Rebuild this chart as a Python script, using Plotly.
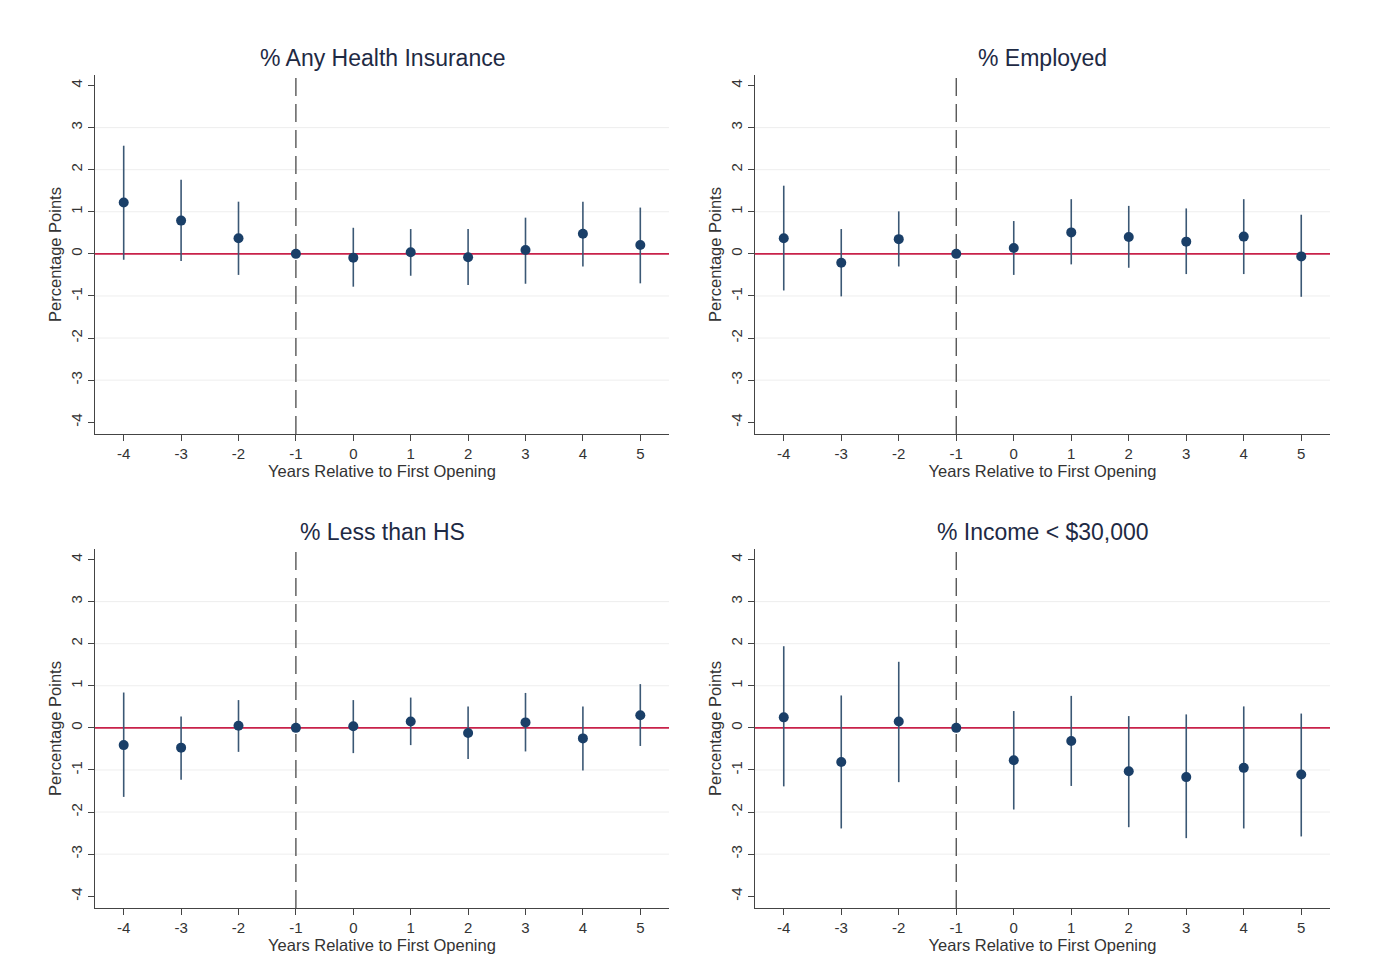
import plotly.graph_objects as go

years = [-4, -3, -2, -1, 0, 1, 2, 3, 4, 5]
tick_labels = ["-4", "-3", "-2", "-1", "0", "1", "2", "3", "4", "5"]
y_ticks = [-4, -3, -2, -1, 0, 1, 2, 3, 4]

titles = ["% Any Health Insurance", "% Employed", "% Less than HS", "% Income < $30,000"]

ins_est = [1.22, 0.79, 0.37, 0.0, -0.09, 0.04, -0.08, 0.09, 0.48, 0.21]
ins_hi = [2.57, 1.76, 1.24, 0.0, 0.62, 0.59, 0.59, 0.86, 1.24, 1.10]
ins_lo = [-0.14, -0.17, -0.50, 0.0, -0.78, -0.52, -0.74, -0.71, -0.30, -0.70]

emp_est = [0.37, -0.21, 0.35, 0.0, 0.14, 0.51, 0.40, 0.29, 0.41, -0.06]
emp_hi = [1.62, 0.59, 1.01, 0.0, 0.78, 1.30, 1.14, 1.08, 1.30, 0.93]
emp_lo = [-0.87, -1.01, -0.30, 0.0, -0.50, -0.25, -0.33, -0.48, -0.48, -1.02]

hs_est = [-0.41, -0.47, 0.05, 0.0, 0.04, 0.15, -0.12, 0.13, -0.25, 0.30]
hs_hi = [0.84, 0.27, 0.66, 0.0, 0.66, 0.72, 0.51, 0.83, 0.51, 1.04]
hs_lo = [-1.64, -1.23, -0.57, 0.0, -0.60, -0.41, -0.74, -0.56, -1.01, -0.43]

inc_est = [0.25, -0.81, 0.15, 0.0, -0.77, -0.31, -1.03, -1.17, -0.95, -1.11]
inc_hi = [1.94, 0.77, 1.57, 0.0, 0.40, 0.76, 0.28, 0.32, 0.51, 0.34]
inc_lo = [-1.39, -2.39, -1.29, 0.0, -1.94, -1.38, -2.36, -2.62, -2.39, -2.58]

panels = [
    (ins_est, ins_hi, ins_lo),
    (emp_est, emp_hi, emp_lo),
    (hs_est, hs_hi, hs_lo),
    (inc_est, inc_hi, inc_lo),
]

OFF = 8  # page body margin
W, H = 1377 - 2 * OFF, 977 - 2 * OFF


def px_x(v):
    return (v - OFF) / W


def px_y(v):
    return 1 - (v - OFF) / H


x_domains = [(px_x(95), px_x(669)), (px_x(755), px_x(1330))]
y_domains = [(px_y(434), px_y(75)), (px_y(908), px_y(549))]

navy = "#1a3f68"
bar_col = "#3b5875"
red = "#c8224a"
grid = "#eeeeee"
axis_col = "#444444"
text_col = "#333333"
title_col = "#1e2a44"
font_family = "Liberation Sans, Arial, sans-serif"

fig = go.Figure()
layout = dict(
    width=W,
    height=H,
    margin=dict(l=0, r=0, t=0, b=0),
    paper_bgcolor="white",
    plot_bgcolor="white",
    showlegend=False,
    font=dict(family=font_family, color=text_col),
)
annotations = []
shapes = []

for i, (est, hi, lo) in enumerate(panels):
    row, col = divmod(i, 2)
    n = i + 1
    xa = "x" if n == 1 else f"x{n}"
    ya = "y" if n == 1 else f"y{n}"
    plus = [h - e for h, e in zip(hi, est)]
    minus = [e - l for e, l in zip(est, lo)]
    fig.add_trace(go.Scatter(
        x=years, y=est, mode="markers", xaxis=xa, yaxis=ya,
        marker=dict(color=navy, size=10),
        error_y=dict(type="data", symmetric=False, array=plus, arrayminus=minus,
                     width=0, thickness=1.6, color=bar_col),
        hoverinfo="x+y",
    ))
    xkey = "xaxis" if n == 1 else f"xaxis{n}"
    ykey = "yaxis" if n == 1 else f"yaxis{n}"
    layout[xkey] = dict(
        domain=list(x_domains[col]), anchor=ya, range=[-4.5, 5.5],
        tickvals=years, ticktext=tick_labels, ticks="outside", ticklen=6,
        tickcolor=axis_col, showline=True, linecolor=axis_col, linewidth=1,
        showgrid=False, zeroline=False,
        tickfont=dict(size=15, color=text_col),
        title=dict(text="Years Relative to First Opening",
                   font=dict(size=16.5, color=text_col), standoff=2),
    )
    layout[ykey] = dict(
        domain=list(y_domains[row]), anchor=xa, range=[-4.28, 4.25],
        tickvals=y_ticks, ticktext=[str(v) for v in y_ticks], ticks="outside",
        ticklen=6, tickcolor=axis_col, tickangle=-90,
        showline=True, linecolor=axis_col, linewidth=1,
        showgrid=False, zeroline=False,
        tickfont=dict(size=15, color=text_col),
        title=dict(text="Percentage Points", font=dict(size=16.5, color=text_col),
                   standoff=2),
    )
    # horizontal gridlines
    for g in [-3, -2, -1, 1, 2, 3]:
        shapes.append(dict(type="line", xref=f"{xa} domain", yref=ya,
                           x0=0, x1=1, y0=g, y1=g,
                           line=dict(color=grid, width=1), layer="below"))
    # zero reference line
    shapes.append(dict(type="line", xref=f"{xa} domain", yref=ya,
                       x0=0, x1=1, y0=0, y1=0,
                       line=dict(color=red, width=1.6), layer="below"))
    # event-time dashed line
    shapes.append(dict(type="line", xref=xa, yref=f"{ya} domain",
                       x0=-1, x1=-1, y0=0, y1=1,
                       line=dict(color="#4a4a4a", width=1.3, dash="18px,8px"),
                       layer="below"))
    xd = x_domains[col]
    yd = y_domains[row]
    annotations.append(dict(
        text=titles[i], xref="paper", yref="paper",
        x=(xd[0] + xd[1]) / 2, y=yd[1] + 17 / H,
        xanchor="center", yanchor="middle", showarrow=False,
        font=dict(size=23, color=title_col, family=font_family),
    ))

layout["annotations"] = annotations
layout["shapes"] = shapes
fig.update_layout(**layout)
fig.write_html("out.html")
